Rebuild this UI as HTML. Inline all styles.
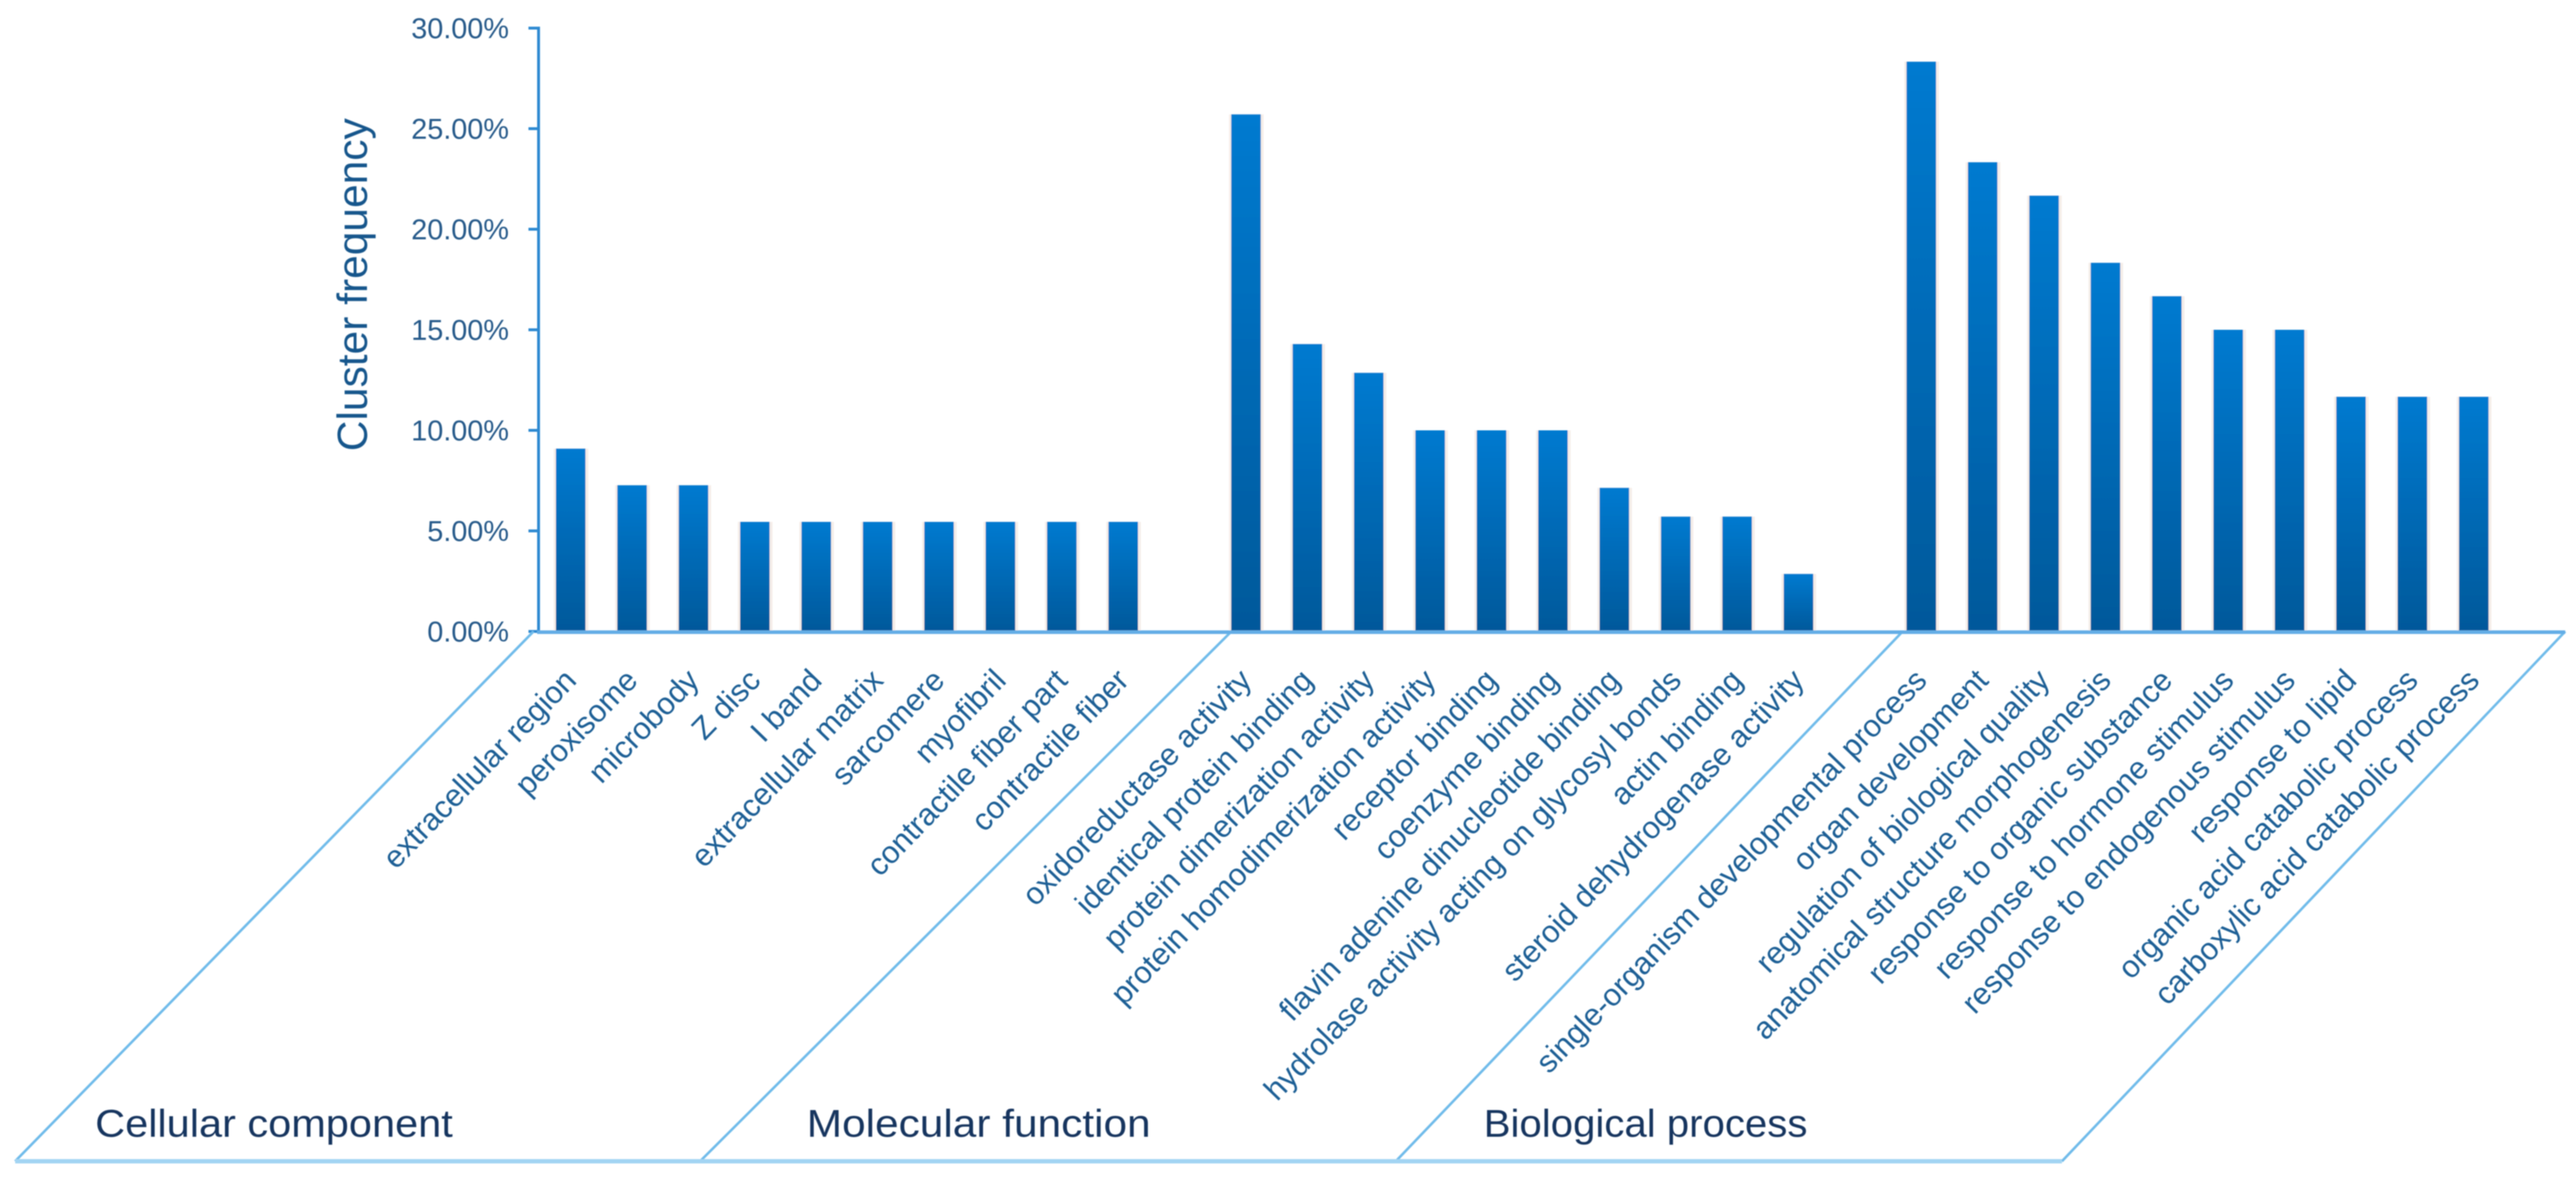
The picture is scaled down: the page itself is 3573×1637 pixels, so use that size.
<!DOCTYPE html>
<html lang="en">
<head>
<meta charset="utf-8">
<title>Cluster frequency chart</title>
<style>
html,body{margin:0;padding:0;background:#fff;width:3573px;height:1637px;overflow:hidden}
svg{display:block}
text{font-family:"Liberation Sans",sans-serif}
</style>
</head>
<body>
<svg id="chart" xmlns="http://www.w3.org/2000/svg" width="3573" height="1637" viewBox="0 0 3573 1637">
<defs>
<linearGradient id="barFill" x1="0" y1="0" x2="0" y2="1">
<stop offset="0" stop-color="#007ad0"/>
<stop offset="1" stop-color="#00589a"/>
</linearGradient>
<filter id="soft" x="-2%" y="-2%" width="104%" height="104%"><feGaussianBlur stdDeviation="0.9"/></filter>
</defs>
<g id="root" filter="url(#soft)"></g>
</svg>
<script>
const categoriesCC = ["extracellular region","peroxisome","microbody","Z disc","I band","extracellular matrix","sarcomere","myofibril","contractile fiber part","contractile fiber"];
const valuesCC = [9.09,7.27,7.27,5.45,5.45,5.45,5.45,5.45,5.45,5.45];
const categoriesMF = ["oxidoreductase activity","identical protein binding","protein dimerization activity","protein homodimerization activity","receptor binding","coenzyme binding","flavin adenine dinucleotide binding","hydrolase activity acting on glycosyl bonds","actin binding","steroid dehydrogenase activity"];
const valuesMF = [25.71,14.29,12.86,10,10,10,7.14,5.71,5.71,2.86];
const categoriesBP = ["single-organism developmental process","organ development","regulation of biological quality","anatomical structure morphogenesis","response to organic substance","response to hormone stimulus","response to endogenous stimulus","response to lipid","organic acid catabolic process","carboxylic acid catabolic process"];
const valuesBP = [28.33,23.33,21.67,18.33,16.67,15,15,11.67,11.67,11.67];
const groupTitles = ["Cellular component","Molecular function","Biological process"];
const yTicks = [0,5,10,15,20,25,30];
const yTitle = "Cluster frequency";

const NS = "http://www.w3.org/2000/svg";
const root = document.getElementById("root");
const Y0 = 876, Y30 = 39, X0 = 749, STEP = 85.15, BAR_W = 41, FLOOR = 1611;
function yScale(v){ return Y0 - (Y0 - Y30) * v / 30; }
function xScale(i){ return X0 + STEP * (i + 0.5); }
function make(tag, attrs){
  const el = document.createElementNS(NS, tag);
  for (const k in attrs) el.setAttribute(k, attrs[k]);
  root.appendChild(el);
  return el;
}
function slug(s){ return s.toLowerCase().replace(/[^a-z0-9]+/g, "-"); }

// y axis line
const yAxis = make("line", {x1:747, x2:747, y1:Y30-2, y2:Y0+2, stroke:"#2f8ad2", "stroke-width":4});



// y ticks and labels
yTicks.forEach(function(t){
  const y = yScale(t);
  const tick = make("line", {x1:733, x2:747, y1:y, y2:y, stroke:"#2f8ad2", "stroke-width":4});
  
  
  const lab = make("text", {x:706, y:y+14, "text-anchor":"end", "font-size":40, fill:"#255a8a"});
  lab.textContent = t.toFixed(2) + "%";
  
  
});

// y title
const yt = make("text", {x:0, y:0, "text-anchor":"middle", "font-size":58, fill:"#14568c", textLength:462, lengthAdjust:"spacingAndGlyphs", transform:"translate(509,395) rotate(-90)"});
yt.textContent = yTitle;



// group panels (parallelogram dividers)
const dividers = [0, 11, 22];
const dividerTops = [740, 1708, 2639];
const dividerBottoms = [21, 971, 1936];
dividerTops.forEach(function(xt, i){
  const d = make("line", {x1:xt, y1:Y0, x2:dividerBottoms[i], y2:FLOOR, stroke:"#6fbbea", "stroke-width":3.5});
  
  
});
const rightEdge = make("line", {x1:3558, y1:Y0, x2:2860, y2:FLOOR, stroke:"#6fbbea", "stroke-width":3.5});


const floorLine = make("line", {x1:21, y1:FLOOR, x2:2860, y2:FLOOR, stroke:"#a2d4f3", "stroke-width":6});



// bars and labels
function drawGroup(cats, vals, offset){
  vals.forEach(function(v, i){
    const idx = offset + i;
    const cx = xScale(idx);
    const top = yScale(v);
    const shadow = make("rect", {x:cx-BAR_W/2-3, y:top, width:BAR_W+7, height:Y0-top, fill:"#f6eee9"});
    
    
    const bar = make("rect", {x:cx-BAR_W/2, y:top, width:BAR_W, height:Y0-top, fill:"url(#barFill)"});
    
    
    const lab = make("text", {x:0, y:0, "text-anchor":"end", "font-size":43, fill:"#1a5f95", transform:"translate(" + (cx+10) + ",946) rotate(-46)"});
    lab.textContent = cats[i];
    
    
  });
}
drawGroup(categoriesCC, valuesCC, 0);
drawGroup(categoriesMF, valuesMF, dividers[1]);
drawGroup(categoriesBP, valuesBP, dividers[2]);

// baseline (drawn above bars)
const baseline = make("line", {x1:745, x2:3558, y1:Y0+1, y2:Y0+1, stroke:"#63ade6", "stroke-width":5});



// group titles
const titleX = [132, 1119, 2058];
const titleW = [496, 477, 449];
groupTitles.forEach(function(t, i){
  const g = make("text", {x:titleX[i], y:1577, "font-size":54, fill:"#12345f", textLength:titleW[i], lengthAdjust:"spacingAndGlyphs"});
  g.textContent = t;
  
  
});
</script>
</body>
</html>
